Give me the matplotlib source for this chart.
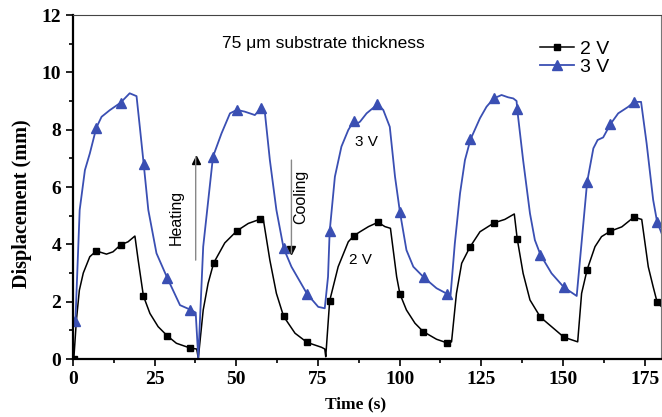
import matplotlib
matplotlib.use("Agg")
import matplotlib.pyplot as plt
from matplotlib.ticker import MultipleLocator

# 2 V curve (time s, displacement mm)
t2 = [0.3, 1.1, 2.0, 3.2, 5.2, 7.2, 10.3, 12.3, 14.6, 16.9, 19.0, 20.0, 21.6, 23.6,
      26.1, 28.9, 31.7, 36.0, 37.9, 38.4, 39.9, 41.4, 43.1, 46.5, 50.2, 53.7, 57.4,
      58.3, 60.3, 62.3, 64.5, 68.0, 71.7, 76.1, 77.1, 77.4, 78.6, 81.2, 84.3, 86.0,
      87.9, 90.5, 93.4, 95.5, 97.2, 99.1, 100.1, 102.1, 104.7, 107.2, 111.3, 114.6,
      115.9, 117.4, 119.0, 121.5, 124.6, 128.9, 132.2, 135.1, 136.0, 137.8, 139.9,
      143.1, 146.5, 150.3, 154.5, 155.7, 157.4, 159.8, 161.8, 164.5, 168.0, 171.7,
      174.1, 176.1, 177.6, 178.8, 180.2]
y2 = [0.0, 1.36, 2.4, 3.0, 3.57, 3.77, 3.66, 3.74, 3.98, 4.09, 4.29, 3.45, 2.2, 1.59,
      1.13, 0.81, 0.55, 0.38, 0.35, 0.03, 1.71, 2.64, 3.35, 4.05, 4.47, 4.73, 4.88,
      4.87, 3.45, 2.29, 1.49, 0.9, 0.58, 0.41, 0.35, 0.08, 2.03, 3.22, 4.09, 4.3,
      4.44, 4.62, 4.77, 4.62, 4.56, 2.87, 2.27, 1.71, 1.25, 0.96, 0.69, 0.56,
      0.6, 2.29, 3.34, 3.9, 4.44, 4.75, 4.87, 5.06, 4.19, 2.99, 2.06,
      1.46, 1.13, 0.76, 0.6, 2.29, 3.12, 3.92, 4.27, 4.46, 4.61, 4.95,
      4.87, 3.22, 2.52, 1.99, 1.82]
marks2 = [0.3, 7.2, 14.6, 21.6, 28.9, 36.0, 43.1, 50.2, 57.4, 64.5, 71.7, 78.6, 86.0,
          93.4, 100.1, 107.2, 114.6, 121.5, 128.9, 136.0, 143.1, 150.3, 157.4, 164.5,
          171.7, 178.8]

# 3 V curve
t3 = [0.3, 0.8, 2.1, 3.7, 5.2, 7.2, 8.8, 11.3, 14.6, 17.4, 19.5, 20.5, 21.7, 23.1,
      25.6, 28.9, 32.8, 36.0, 37.6, 38.4, 39.9, 42.9, 45.5, 48.1, 50.2, 52.6, 54.7,
      55.7, 57.5, 58.8, 60.3, 62.3, 64.5, 66.9, 71.7, 75.1, 77.1, 78.1, 78.6, 80.2,
      82.2, 84.3, 86.0, 87.1, 87.9, 89.9, 93.2, 95.0, 97.0, 98.6, 100.1, 102.1,
      104.2, 107.4, 111.3, 114.6, 115.6, 116.9, 118.5, 120.0, 121.7, 124.6, 126.6,
      128.8, 131.2, 133.2, 134.8, 135.8, 136.0, 137.8, 139.9, 141.4, 143.1, 146.5,
      150.3, 154.2, 155.2, 157.4, 159.3, 160.6, 162.3, 164.5, 166.9, 170.0, 171.7,
      173.9, 175.6, 177.6, 178.8, 180.2]
y3 = [1.2, 1.34, 5.2, 6.59, 7.17, 8.07, 8.45, 8.68, 8.94, 9.27, 9.17, 8.1, 6.79, 5.2,
      3.69, 2.83, 1.88, 1.72, 1.62, 0.03, 3.92, 7.06, 7.87, 8.57, 8.69, 8.63, 8.55,
      8.51, 8.74, 8.57, 6.94, 5.2, 3.87, 3.22, 2.27, 1.82, 1.77, 2.87, 4.45, 6.36,
      7.41, 7.99, 8.31, 8.22, 8.28, 8.57, 8.88, 8.69, 8.1, 6.36, 5.13, 3.8,
      3.22, 2.85, 2.47, 2.27, 2.23, 4.03, 5.78, 6.94, 7.66, 8.4, 8.8,
      9.09, 9.21, 9.13, 9.09, 9.0, 8.71, 6.94, 5.08, 4.15, 3.64, 2.99,
      2.5, 2.2, 3.45, 6.18, 7.35, 7.64, 7.73, 8.19, 8.57, 8.8, 8.97,
      8.97, 7.52, 5.55, 4.79, 4.38]
marks3 = [0.8, 7.2, 14.6, 21.7, 28.9, 36.0, 42.9, 50.2, 57.5, 64.5, 71.7, 78.6, 86.0,
          93.2, 100.1, 107.4, 114.6, 121.7, 128.8, 136.0, 143.1, 150.3, 157.4, 164.5,
          171.7, 178.8]

blue = "#3a4fb3"
sans = "Liberation Sans"
serif = "Liberation Serif"

fig = plt.figure(figsize=(6.62, 4.17), dpi=100)
ax = fig.add_axes([0.110, 0.139, 0.8885, 0.825])

ax.plot(t2, y2, color="black", lw=1.1, marker="s", ms=5,
        markevery=[t2.index(t) for t in marks2], label="2 V")
ax.plot(t3, y3, color=blue, lw=1.3, marker="^", ms=6.5,
        markevery=[t3.index(t) for t in marks3], label="3 V")

ax.set_xlim(0, 180)
ax.set_ylim(0, 12)
ax.xaxis.set_major_locator(MultipleLocator(25))
ax.xaxis.set_minor_locator(MultipleLocator(12.5))
ax.yaxis.set_major_locator(MultipleLocator(2))
ax.yaxis.set_minor_locator(MultipleLocator(1))
ax.tick_params(which="both", direction="out", top=False, right=False, width=1.2)
ax.tick_params(which="major", length=5, labelsize=14)
ax.tick_params(which="minor", length=3)
for lab in ax.get_xticklabels() + ax.get_yticklabels():
    lab.set_family(serif)
    lab.set_fontweight("bold")
for s in ["left", "bottom"]:
    ax.spines[s].set_linewidth(1.6)
ax.spines["top"].set_color("#444444")
ax.spines["right"].set_color("#777777")

ax.set_xlabel("Time (s)", family=serif, fontweight="bold", fontsize=12.5)
ax.set_ylabel("Displacement (mm)", family=serif, fontweight="bold", fontsize=14.5)
ax.xaxis.set_label_coords(0.48, -0.108)
ax.yaxis.set_label_coords(-0.07, 0.453)

ax.text(45.6, 11.0, "75 \u03bcm substrate thickness", family=sans, fontsize=12.5, va="center")
ax.text(86.5, 7.57, "3 V", family=sans, fontsize=11, va="center")
ax.text(84.5, 3.45, "2 V", family=sans, fontsize=11, va="center")

# heating / cooling arrows
ax.annotate("", xy=(37.6, 7.05), xytext=(37.6, 3.45),
            arrowprops=dict(arrowstyle="-", color="#888888", lw=1, shrinkA=0, shrinkB=0))
ax.plot([37.6], [6.95], marker="^", color="black", ms=6)
ax.text(31.8, 4.95, "Heating", family=sans, fontsize=11.5, rotation=90, va="center", ha="center")
ax.annotate("", xy=(66.9, 3.7), xytext=(66.9, 6.94),
            arrowprops=dict(arrowstyle="-", color="#888888", lw=1, shrinkA=0, shrinkB=0))
ax.plot([66.9], [3.8], marker="v", color="black", ms=6)
ax.text(69.6, 5.66, "Cooling", family=sans, fontsize=11.5, rotation=90, va="center", ha="center")

leg = ax.legend(loc="upper left", bbox_to_anchor=(0.781, 0.95), frameon=False,
                prop={"family": sans, "size": 14}, handlelength=1.75, handletextpad=0.3,
                labelspacing=0.05, borderaxespad=0.0)

fig.savefig("out.png", dpi=100)
